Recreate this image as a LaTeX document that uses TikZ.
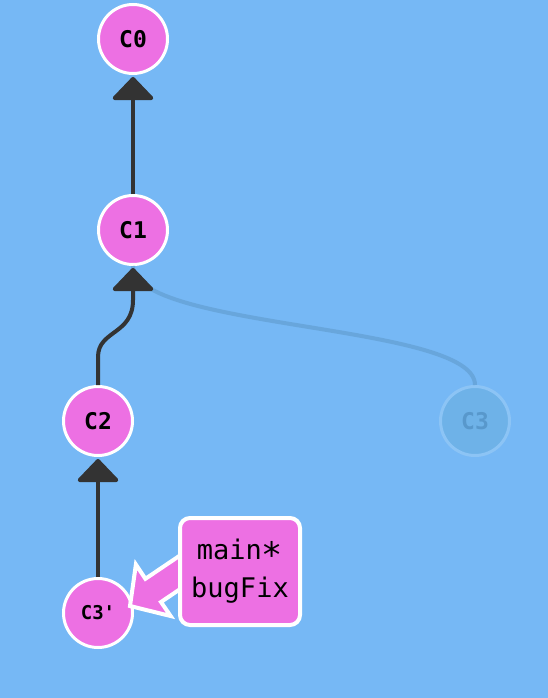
\documentclass[tikz,border=0pt]{standalone}
\usepackage{fontspec}
\setmonofont{DejaVu Sans Mono}
\usetikzlibrary{arrows.meta,calc}
\definecolor{bg}{RGB}{118,184,245}
\definecolor{commitpink}{RGB}{237,112,227}
\definecolor{edgedark}{RGB}{51,51,51}
\definecolor{ghostfill}{RGB}{110,178,232}
\definecolor{ghostring}{RGB}{140,196,245}
\definecolor{ghosttext}{RGB}{88,152,204}
\definecolor{ghostedge}{RGB}{104,166,220}
\newcommand{\midstar}{\raisebox{-0.3em}{\scalebox{1.3}{*}}}
\begin{document}
\begin{tikzpicture}[x=1pt,y=-1pt,
  commit/.style={circle, draw=white, line width=3pt, fill=commitpink,
    minimum size=69pt, inner sep=0pt,
    font=\ttfamily\bfseries\fontsize{23}{23}\selectfont},
  ghost/.style={commit, draw=ghostring, fill=ghostfill, text=ghosttext},
  parent/.style={draw=edgedark, line width=4pt, shorten >=2pt,
    -{Triangle[width=45pt,length=24pt,round]}},
  ghostparent/.style={draw=ghostedge, line width=4pt},
  branchbox/.style={draw=white, line width=4pt, fill=commitpink,
    rounded corners=10pt, minimum width=120pt, minimum height=107pt,
    align=center, inner sep=0pt,
    font=\ttfamily\fontsize{27}{38}\selectfont},
  pointer/.style={draw=white, line width=4pt, fill=commitpink, line join=miter}]

  % canvas
  \fill[bg] (0,0) rectangle (548,698);
  \useasboundingbox (0,0) rectangle (548,698);

  % commits
  \node[commit] (c0) at (133,39) {C0};
  \node[commit] (c1) at (133,230) {C1};
  \node[commit] (c2) at (98,421) {C2};
  \node[ghost]  (c3) at (475,421) {C3};
  \node[commit, font=\ttfamily\bfseries\fontsize{19}{19}\selectfont] (c3p) at (98,613) {C3'};

  % parent links
  \draw[ghostparent] (c3.north) .. controls +(0,-62) and +(0,64) .. (c1.south);
  \draw[parent] (c1.north) -- (c0.south);
  \draw[parent] (c2.north) -- ++(0,-28) .. controls +(0,-27) and +(0,35) .. ($(c1.south)+(0,34)$) -- (c1.south);
  \draw[parent] (c3p.north) -- (c2.south);

  % branch pointer arrow
  \coordinate (tip) at ($(c3p.center)+(32,-7)$);
  \draw[pointer] (tip) -- ($(tip)+(5.9,-41.5)$) -- ($(tip)+(15.4,-27.2)$)
    -- ($(tip)+(73.5,-66.4)$) -- ($(tip)+(89.1,-43.2)$)
    -- ($(tip)+(31.0,-4.0)$) -- ($(tip)+(40.6,10.0)$) -- cycle;

  % branch label
  \node[branchbox] (lbl) at (240,571.5) {main\midstar\\bugFix};
\end{tikzpicture}
\end{document}
